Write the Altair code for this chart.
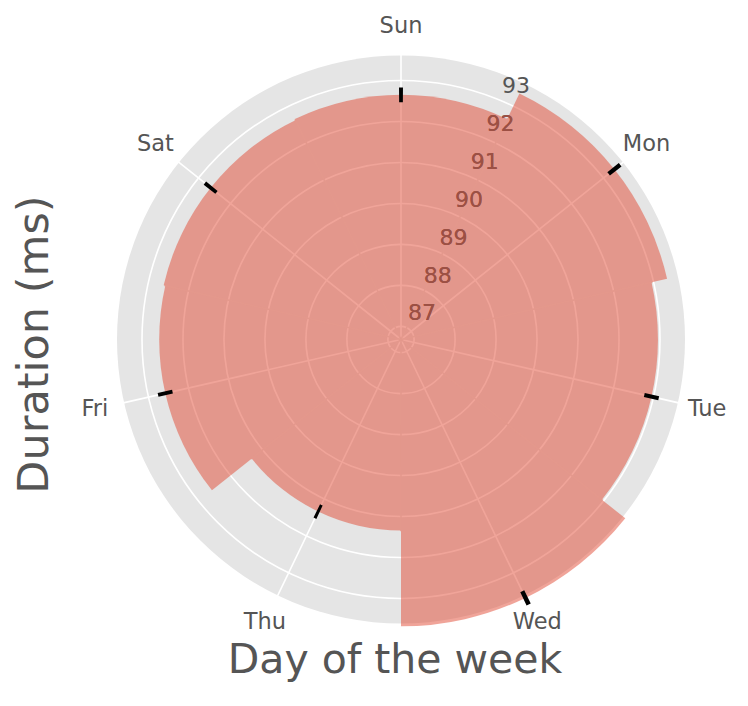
import math
import altair as alt
import pandas as pd

# ---- data ----
days = ["Sun", "Mon", "Tue", "Wed", "Thu", "Fri", "Sat"]
durations = [92.65, 93.34, 92.95, 93.68, 91.34, 92.58, 92.62]
errors = [0.18, 0.18, 0.18, 0.18, 0.18, 0.18, 0.18]
ring_values = [87, 88, 89, 90, 91, 92, 93]

# ---- layout ----
W, H = 732, 690
CX, CY = 393, 331.5
R_OUT = 284
FONT = "DejaVu Sans"
GREY = "#555555"
TWO_PI = 2 * math.pi

theta_scale = alt.Scale(domain=[0, 360], range=[0, TWO_PI])
r_scale = alt.Scale(type="linear", domain=[86.68, 93.61], range=[0, R_OUT],
                    zero=False, nice=False)

step = 360 / len(days)
df = pd.DataFrame({"day": days, "duration": durations, "err": errors})
df["angle"] = [i * step for i in range(len(days))]
df["start"] = df["angle"] - step / 2
df["end"] = df["angle"] + step / 2
df["lo"] = df["duration"] - df["err"]
df["hi"] = df["duration"] + df["err"]
df["e0"] = df["angle"] - 0.45
df["e1"] = df["angle"] + 0.45
df["s1"] = df["angle"] + 0.001
df["b1"] = df["start"] + 0.001
df["seam_r"] = [min(durations[i], durations[i - 1]) for i in range(len(days))]

rings_df = pd.DataFrame({"r": ring_values})
one = pd.DataFrame({"a": [0]})

cx = alt.value(CX)
cy = alt.value(CY)

disk = alt.Chart(one).mark_arc(color="#E5E5E5").encode(
    x=cx, y=cy, theta=alt.value(0), theta2=alt.value(TWO_PI),
    radius=alt.value(R_OUT))

rings = alt.Chart(rings_df).mark_arc(filled=False, stroke="white", strokeWidth=1.6).encode(
    x=cx, y=cy, theta=alt.value(0), theta2=alt.value(TWO_PI),
    radius=alt.Radius("r:Q", scale=r_scale, stack=None))

spokes = alt.Chart(df).mark_arc(filled=False, stroke="white", strokeWidth=1.6).encode(
    x=cx, y=cy,
    theta=alt.Theta("angle:Q", scale=theta_scale, stack=None),
    theta2="s1:Q",
    radius=alt.value(R_OUT))

def radial_labels(color):
    return alt.Chart(rings_df).mark_text(
        align="left", baseline="bottom", dx=2, dy=-2, fontSize=22, color=color, font=FONT
    ).encode(
        x=cx, y=cy, theta=alt.value(22.5 * math.pi / 180),
        radius=alt.Radius("r:Q", scale=r_scale, stack=None), text="r:Q")

rlabels = radial_labels(GREY)
# labels seen through the translucent bars (same tint as bar over grey text)
rlabels_top = radial_labels("#9C5044").transform_filter("datum.r <= 92")

bars = alt.Chart(df).mark_arc(color="#E24A33", opacity=0.5).encode(
    x=cx, y=cy,
    theta=alt.Theta("start:Q", scale=theta_scale, stack=None),
    theta2="end:Q",
    radius=alt.Radius("duration:Q", scale=r_scale, stack=None))

# covers the anti-aliasing seam where two translucent bars meet
seams = alt.Chart(df).mark_arc(filled=False, stroke="#E4988C", strokeWidth=1.5).encode(
    x=cx, y=cy,
    theta=alt.Theta("start:Q", scale=theta_scale, stack=None),
    theta2="b1:Q",
    radius=alt.Radius("seam_r:Q", scale=r_scale, stack=None))

errbars = alt.Chart(df).mark_arc(color="black").encode(
    x=cx, y=cy,
    theta=alt.Theta("e0:Q", scale=theta_scale, stack=None),
    theta2="e1:Q",
    radius=alt.Radius("hi:Q", scale=r_scale, stack=None),
    radius2="lo:Q")

dlabels = alt.Chart(df).mark_text(
    align="center", baseline="middle", fontSize=22.5, color=GREY, font=FONT
).encode(
    x=cx, y=cy,
    theta=alt.Theta("angle:Q", scale=theta_scale, stack=None),
    radius=alt.value(314), text="day:N")

xtitle = alt.Chart(one).mark_text(
    text="Day of the week", align="center", baseline="alphabetic",
    fontSize=41, color=GREY, font=FONT
).encode(x=alt.value(387), y=alt.value(665))

ytitle = alt.Chart(one).mark_text(
    text="Duration (ms)", align="center", baseline="alphabetic", angle=270,
    fontSize=43, color=GREY, font=FONT
).encode(x=alt.value(40), y=alt.value(336.5))

chart = alt.layer(disk, rings, spokes, rlabels, bars, seams, rlabels_top, errbars,
                  dlabels, xtitle, ytitle).properties(
    width=W, height=H, autosize="none", padding=0
).configure_view(strokeWidth=0)

chart.save("out.html", embed_options={"renderer": "svg", "actions": False})
